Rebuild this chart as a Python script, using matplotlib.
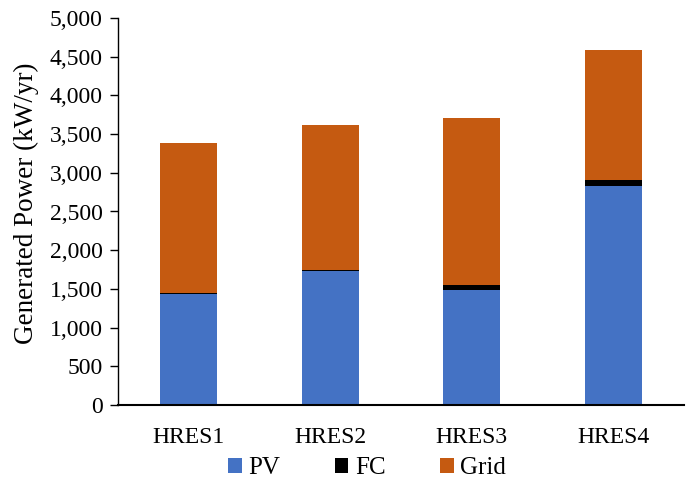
import numpy as np
import matplotlib.pyplot as plt
from matplotlib.ticker import FuncFormatter

plt.rcParams['font.family'] = 'Liberation Serif'

systems = ['HRES1', 'HRES2', 'HRES3', 'HRES4']
pv = [1430, 1730, 1485, 2830]
fc = [15, 20, 70, 80]
grid = [1940, 1870, 2150, 1680]

fig = plt.figure(figsize=(6.91, 4.90), dpi=100)
ax = fig.add_axes([118/691, 1 - 405/490, (684 - 118)/691, (405 - 18)/490])

x = np.arange(len(systems))
w = 0.4
pv_arr = np.array(pv)
fc_arr = np.array(fc)
ax.bar(x, pv, w, color='#4472C4', label='PV')
ax.bar(x, fc, w, bottom=pv_arr, color='#000000', label='FC')
ax.bar(x, grid, w, bottom=pv_arr + fc_arr, color='#C55A11', label='Grid')

ax.set_xlim(-0.5, len(systems) - 0.5)
ax.set_ylim(0, 5000)
ax.set_yticks(range(0, 5001, 500))
ax.yaxis.set_major_formatter(FuncFormatter(lambda v, p: f'{v:,.0f}'))
ax.set_xticks(x)
ax.set_xticklabels(systems)

for s in ['top', 'right']:
    ax.spines[s].set_visible(False)
ax.spines['left'].set_linewidth(1.0)
ax.spines['bottom'].set_linewidth(1.5)
ax.tick_params(axis='x', length=0, labelsize=17, pad=16)
ax.tick_params(axis='y', length=6, width=1.0, labelsize=17, pad=5)

# axis title placed in figure coordinates
fig.text(26/691, 1 - 203/490, 'Generated Power (kW/yr)', rotation=90,
         ha='center', va='center', fontsize=19.5)

ax.legend(loc='center', bbox_to_anchor=(0.44, -0.163), ncol=3, frameon=False,
          fontsize=18, handlelength=0.55, handleheight=0.55, columnspacing=2.2,
          handletextpad=0.25)

fig.savefig('out.png', dpi=100)
